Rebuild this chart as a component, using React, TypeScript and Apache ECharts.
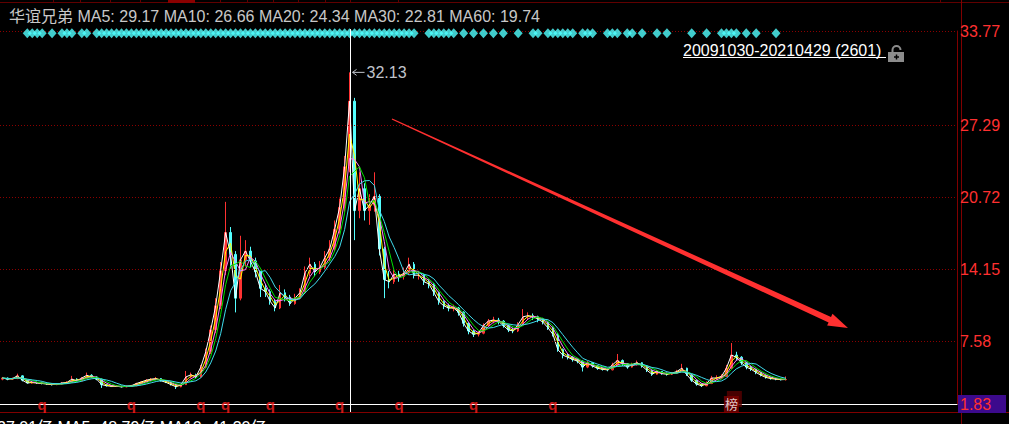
import React, { useEffect, useRef } from 'react';
import * as echarts from 'echarts';

const STOCK_NAME = '华谊兄弟';
const MA_NAMES = ['MA5', 'MA10', 'MA20', 'MA30', 'MA60'];
const MA_VALUES = [29.17, 26.66, 24.34, 22.81, 19.74];
const MA_COLORS = ['#ffffff', '#ffff00', '#ff80ff', '#00e000', '#3fdcec'];
const MA_WINDOWS = [1, 2, 3, 4, 6]; // in sampled periods
const RANGE_TEXT = '20091030-20210429 (2601)';
const VOL_TEXT = ['27.01亿', 'MA5: 48.79亿', 'MA10: 41.30亿'];
const VOL_COLORS = ['#4aa0ff', '#ffffff', '#ffff00'];

const OPEN = [
  4.10, 4.20, 4.10, 4.15, 4.40, 4.00, 3.75, 3.80, 3.75, 3.70,
  3.65, 3.60, 3.65, 3.75, 3.80, 4.10, 3.95, 4.20, 4.45, 4.30,
  4.10, 3.60, 3.50, 3.45, 3.45, 3.40, 3.45, 3.50, 3.70, 3.85,
  4.00, 4.10, 4.15, 3.95, 3.80, 3.60, 3.40, 3.60, 4.30, 4.50,
  4.30, 5.20, 6.60, 8.60, 10.80, 14.00, 17.50, 15.50, 11.50, 15.00,
  15.80, 14.90, 13.90, 12.40, 12.10, 11.20, 10.60, 12.00, 11.60, 11.00,
  11.50, 12.00, 13.80, 14.60, 13.90, 14.30, 15.20, 16.00, 17.80, 19.80,
  23.50, 29.50, 19.50, 21.50, 19.50, 20.00, 20.80, 16.00, 13.20, 13.00,
  13.70, 13.50, 13.80, 14.60, 13.60, 13.60, 13.00, 12.80, 12.00, 11.20,
  10.80, 10.60, 10.60, 10.20, 9.20, 8.50, 8.20, 8.30, 9.00, 9.40,
  9.50, 9.40, 9.00, 8.60, 8.50, 9.10, 9.80, 9.90, 9.80, 9.60,
  9.30, 8.80, 8.20, 6.80, 6.30, 6.10, 5.90, 5.75, 5.20, 5.60,
  5.30, 5.10, 5.00, 4.95, 5.40, 5.80, 5.50, 5.20, 5.45, 5.60,
  5.30, 4.90, 4.55, 4.80, 4.60, 4.55, 4.65, 4.80, 5.10, 4.50,
  4.00, 3.65, 3.50, 3.70, 4.20, 4.20, 4.35, 5.10, 6.30, 6.10,
  5.60, 5.20, 5.00, 4.70, 4.45, 4.25, 4.15, 4.10, 4.05,
];
const CLOSE = [
  4.20, 4.10, 4.15, 4.40, 4.00, 3.75, 3.80, 3.75, 3.70, 3.65,
  3.60, 3.65, 3.75, 3.80, 4.10, 3.95, 4.20, 4.45, 4.30, 4.10,
  3.60, 3.50, 3.45, 3.45, 3.40, 3.45, 3.50, 3.70, 3.85, 4.00,
  4.10, 4.15, 3.95, 3.80, 3.60, 3.40, 3.60, 4.30, 4.50, 4.30,
  5.20, 6.60, 8.60, 10.80, 14.00, 17.50, 15.50, 11.50, 15.00, 15.80,
  14.90, 13.90, 12.40, 12.10, 11.20, 10.60, 12.00, 11.60, 11.00, 11.50,
  12.00, 13.80, 14.60, 13.90, 14.30, 15.20, 16.00, 17.80, 19.80, 23.50,
  29.50, 19.50, 21.50, 19.50, 20.00, 20.80, 16.00, 13.20, 13.00, 13.70,
  13.50, 13.80, 14.60, 13.60, 13.60, 13.00, 12.80, 12.00, 11.20, 10.80,
  10.60, 10.60, 10.20, 9.20, 8.50, 8.20, 8.30, 9.00, 9.40, 9.50,
  9.40, 9.00, 8.60, 8.50, 9.10, 9.80, 9.90, 9.80, 9.60, 9.30,
  8.80, 8.20, 6.80, 6.30, 6.10, 5.90, 5.75, 5.20, 5.60, 5.30,
  5.10, 5.00, 4.95, 5.40, 5.80, 5.50, 5.20, 5.45, 5.60, 5.30,
  4.90, 4.55, 4.80, 4.60, 4.55, 4.65, 4.80, 5.10, 4.50, 4.00,
  3.65, 3.50, 3.70, 4.20, 4.20, 4.35, 5.10, 6.30, 6.10, 5.60,
  5.20, 5.00, 4.70, 4.45, 4.25, 4.15, 4.10, 4.05, 4.07,
];
const LOW = [
  4.00, 4.00, 4.02, 4.10, 3.90, 3.70, 3.68, 3.66, 3.62, 3.58,
  3.52, 3.55, 3.60, 3.70, 3.76, 3.88, 3.90, 4.15, 4.20, 4.00,
  3.30, 3.42, 3.38, 3.38, 3.34, 3.36, 3.40, 3.46, 3.66, 3.80,
  3.95, 4.00, 3.88, 3.74, 3.52, 3.20, 3.36, 3.58, 4.20, 4.15,
  4.25, 5.10, 6.40, 8.30, 10.50, 13.60, 14.20, 10.20, 11.30, 14.40,
  14.30, 13.40, 11.60, 11.60, 10.90, 10.30, 10.50, 11.20, 10.80, 10.90,
  11.40, 11.90, 13.50, 13.50, 13.70, 14.10, 14.90, 15.80, 17.40, 19.40,
  23.00, 16.80, 18.80, 18.60, 18.20, 19.40, 15.40, 11.50, 12.40, 12.80,
  13.00, 13.20, 13.60, 13.30, 13.20, 12.70, 12.40, 11.70, 10.90, 10.50,
  10.30, 10.30, 9.90, 8.90, 8.20, 7.95, 8.00, 8.20, 8.90, 9.20,
  9.10, 8.80, 8.40, 8.30, 8.40, 9.00, 9.50, 9.50, 9.30, 9.10,
  8.60, 8.00, 6.60, 6.00, 5.90, 5.70, 5.55, 4.80, 5.10, 5.15,
  4.95, 4.88, 4.82, 4.90, 5.30, 5.30, 5.05, 5.15, 5.35, 5.15,
  4.75, 4.40, 4.50, 4.50, 4.42, 4.48, 4.58, 4.75, 4.40, 3.85,
  3.50, 3.38, 3.45, 3.65, 4.00, 4.10, 4.30, 5.00, 5.80, 5.40,
  5.00, 4.85, 4.55, 4.35, 4.15, 4.05, 4.00, 3.98, 3.98,
];
const HIGH = [
  4.30, 4.25, 4.25, 4.60, 4.45, 4.05, 3.90, 3.88, 3.82, 3.76,
  3.72, 3.74, 3.84, 3.92, 4.40, 4.18, 4.30, 4.70, 4.55, 4.35,
  4.15, 3.66, 3.56, 3.54, 3.50, 3.52, 3.58, 3.78, 3.92, 4.10,
  4.20, 4.30, 4.20, 4.00, 3.84, 3.64, 3.70, 4.85, 4.70, 4.60,
  5.40, 6.90, 9.00, 11.50, 14.80, 20.30, 18.00, 15.80, 17.20, 16.80,
  16.20, 15.20, 14.00, 12.80, 12.30, 11.40, 12.70, 12.30, 11.80, 11.90,
  12.40, 14.40, 15.20, 14.80, 14.90, 15.80, 16.80, 18.60, 20.60, 24.50,
  32.13, 29.80, 23.00, 22.00, 21.00, 23.00, 21.00, 16.20, 14.00, 14.20,
  14.00, 14.30, 15.20, 14.80, 14.00, 13.70, 13.20, 12.90, 12.10, 11.30,
  11.00, 10.90, 10.70, 10.30, 9.30, 8.60, 8.50, 9.20, 9.60, 9.80,
  9.70, 9.50, 9.10, 8.80, 9.30, 10.50, 10.20, 10.10, 9.90, 9.70,
  9.40, 8.90, 8.30, 6.90, 6.40, 6.20, 6.00, 5.80, 5.75, 5.65,
  5.35, 5.15, 5.10, 5.60, 6.40, 5.90, 5.55, 5.60, 5.80, 5.65,
  5.35, 4.95, 4.95, 4.85, 4.70, 4.75, 4.95, 5.50, 5.15, 4.55,
  4.05, 3.70, 3.90, 4.40, 4.45, 4.55, 5.40, 7.40, 6.60, 6.20,
  5.70, 5.30, 5.05, 4.75, 4.50, 4.30, 4.20, 4.15, 4.35,
];

const CATEGORY_COUNT = 193; // includes empty space to the right of the last bar
const CATEGORIES = Array.from({ length: CATEGORY_COUNT }, (_, i) => String(i));

const Y_MIN = 1.83;
const Y_MAX = 35.91;
const Y_TICKS = [1.83, 7.58, 14.15, 20.72, 27.29, 35.91];
const Y_TICK_LABELS = ['1.83', '7.58', '14.15', '20.72', '27.29', '33.77'];

const PEAK_INDEX = 70;
const PEAK_VALUE = 32.13;

const DIAMOND_LEVEL = 35.7;
const DIAMOND_INDEX = [
  5, 6, 7, 8, 10, 12, 13, 14, 16, 17, 19, 20, 21, 22,
  23, 24, 25, 26, 27, 28, 29, 30, 31, 32, 33, 34, 35, 36, 37, 38, 39, 40, 41, 42,
  43, 44, 45, 46, 47, 48, 49, 50, 51, 52, 53, 54, 55, 56, 57, 58, 59, 60, 61, 62,
  63, 64, 65, 66, 67, 68, 69, 70, 71, 72, 73, 74, 75, 76, 77, 78, 79, 80, 81, 82,
  83, 86, 87, 88, 89, 90, 91, 93, 95, 97, 99, 101, 104, 107, 108, 110, 111, 112,
  113, 114, 115, 117, 118, 119, 122, 123, 124, 126, 127, 129, 132, 134, 139, 142,
  145, 146, 147, 148, 150, 152, 156,
];
const EXRIGHT_INDEX = [8, 26, 40, 45, 54, 68, 80, 95, 111];
const BANG_INDEX = [147];

const FONT = '"Liberation Sans", Arial, "Noto Sans CJK SC", sans-serif';

function movingAverage(values: number[], w: number) {
  return values.map((_, i) => {
    const s = Math.max(0, i - w + 1);
    let sum = 0;
    for (let k = s; k <= i; k++) sum += values[k];
    return +(sum / (i - s + 1)).toFixed(3);
  });
}

export default function App() {
  const ref = useRef<HTMLDivElement>(null);

  useEffect(() => {
    if (!ref.current) return;
    const chart = echarts.init(ref.current, undefined, { renderer: 'svg' });

    const candles = CLOSE.map((c, i) => [OPEN[i], c, LOW[i], HIGH[i]]);

    const maSeries = MA_NAMES.map((name, k) => ({
      name,
      type: 'line',
      data: movingAverage(CLOSE, MA_WINDOWS[k]),
      showSymbol: false,
      symbol: 'none',
      silent: true,
      lineStyle: { color: MA_COLORS[k], width: 1 },
      z: 3 + k,
    }));

    chart.setOption({
      animation: false,
      backgroundColor: '#000000',
      grid: { left: 0, right: 48, top: 31, bottom: 20, containLabel: false },
      xAxis: {
        type: 'category',
        data: CATEGORIES,
        boundaryGap: true,
        axisLine: { show: true, lineStyle: { color: '#ffffff', width: 1 } },
        axisTick: { show: false },
        axisLabel: { show: false },
        splitLine: { show: false },
      },
      yAxis: {
        type: 'value',
        position: 'right',
        min: Y_MIN,
        max: Y_MAX,
        axisLine: { show: true, lineStyle: { color: '#800000' } },
        axisTick: { show: false, customValues: Y_TICKS },
        splitLine: { show: false },
        axisLabel: {
          customValues: Y_TICKS,
          margin: 1,
          formatter: (v: number) => {
            const k = Y_TICKS.findIndex((t) => Math.abs(t - v) < 0.005);
            const lab = k >= 0 ? Y_TICK_LABELS[k] : '';
            return k === 0 ? `{hl|${lab}}` : `{n|${lab}}`;
          },
          rich: {
            n: { color: '#ff3030', fontSize: 16, fontFamily: FONT, padding: [0, 0, 0, 2] },
            hl: {
              color: '#ff3030', fontSize: 16, fontFamily: FONT, backgroundColor: '#3c0a8c',
              padding: [1, 6, 1, 2], lineHeight: 18, width: 40,
            },
          },
        },
      },
      series: [
        {
          type: 'candlestick',
          data: candles,
          barMaxWidth: 2,
          silent: true,
          itemStyle: {
            color: '#ff3232', color0: '#54ffff',
            borderColor: '#ff3232', borderColor0: '#54ffff', borderWidth: 1,
          },
          markLine: {
            silent: true,
            symbol: ['none', 'none'],
            label: { show: false },
            lineStyle: { color: '#8b0000', type: [1, 2], width: 1 },
            data: Y_TICKS.slice(1).map((v) => ({ yAxis: v })),
          },
          z: 2,
        },
        ...maSeries,
        {
          type: 'scatter',
          data: DIAMOND_INDEX.map((i) => [i, DIAMOND_LEVEL]),
          symbol: 'diamond',
          symbolSize: [9, 10],
          clip: false,
          silent: true,
          itemStyle: { color: '#50ffff' },
          z: 10,
        },
        {
          type: 'scatter',
          data: EXRIGHT_INDEX.map((i) => [i, Y_MIN]),
          symbolSize: 0,
          clip: false,
          silent: true,
          label: {
            show: true, position: 'inside', formatter: 'q', color: '#ff2020',
            fontSize: 15, fontWeight: 'bold', fontFamily: FONT,
          },
          z: 11,
        },
        {
          type: 'scatter',
          data: BANG_INDEX.map((i) => [i, Y_MIN]),
          symbolSize: 0,
          clip: false,
          silent: true,
          label: {
            show: true, position: 'inside', formatter: '榜', color: '#ffffff',
            fontSize: 13, fontFamily: FONT, backgroundColor: '#7a0000',
            padding: [2, 1, 1, 1],
            shadowColor: '#5a0000', shadowOffsetX: 3, shadowOffsetY: -5, shadowBlur: 0,
          },
          z: 11,
        },
      ],
    });

    const [px, py] = chart.convertToPixel({ seriesIndex: 0 }, [PEAK_INDEX, PEAK_VALUE]) as number[];
    const cx = Math.round(px) + 0.5;

    const legendRich: any = { n: { color: '#c8c8c8', fontSize: 16, fontFamily: FONT } };
    MA_NAMES.forEach((_, k) => {
      legendRich['m' + k] = { color: MA_COLORS[k], fontSize: 16, fontFamily: FONT };
    });
    const legendText =
      `{n|${STOCK_NAME}} ` +
      MA_NAMES.map((n, k) => `{m${k}|${n}: ${MA_VALUES[k].toFixed(2)}}`).join(' ');

    const volRich: any = {};
    VOL_TEXT.forEach((_, k) => {
      volRich['v' + k] = { color: VOL_COLORS[k], fontSize: 16, fontFamily: FONT };
    });
    const volText = VOL_TEXT.map((t, k) => `{v${k}|${t}}`).join(' ');

    const tabTicks = [53, 80, 110, 140, 220, 247, 273, 298, 325, 350, 398, 940];

    // long red trend arrow
    const arrow = [
      [391.7, 119.6], [828.6, 322.4], [827.1, 325.6], [848, 328],
      [832.5, 313.8], [831.0, 317.0], [392.3, 118.4],
    ];

    chart.setOption({
      graphic: [
        { type: 'line', silent: true, shape: { x1: 0, y1: 2.5, x2: 1009, y2: 2.5 }, style: { stroke: '#600000', lineWidth: 1 } },
        { type: 'rect', silent: true, shape: { x: 168, y: 0, width: 27, height: 3 }, style: { fill: '#8b0000' } },
        ...tabTicks.map((x) => ({
          type: 'line', silent: true, shape: { x1: x + 0.5, y1: 0, x2: x + 0.5, y2: 3 }, style: { stroke: '#600000', lineWidth: 1 },
        })),
        { type: 'line', silent: true, shape: { x1: 961.5, y1: 0, x2: 961.5, y2: 424 }, style: { stroke: '#800000', lineWidth: 1 } },
        { type: 'line', silent: true, shape: { x1: 0, y1: 412.5, x2: 1009, y2: 412.5 }, style: { stroke: '#800000', lineWidth: 1 } },
        {
          type: 'text', silent: true, x: 9, y: 16,
          style: { text: legendText, rich: legendRich, fontSize: 16, fontFamily: FONT, fill: '#c8c8c8', verticalAlign: 'middle' },
        },
        {
          type: 'text', silent: true, x: 683, y: 50.5,
          style: { text: RANGE_TEXT, fontSize: 16, fontFamily: FONT, fill: '#ffffff', verticalAlign: 'middle' },
        },
        { type: 'line', silent: true, shape: { x1: 683, y1: 57.5, x2: 886, y2: 57.5 }, style: { stroke: '#ffffff', lineWidth: 1 } },
        { type: 'arc', silent: true, shape: { cx: 896.5, cy: 50, r: 4, startAngle: Math.PI, endAngle: Math.PI * 2, clockwise: true }, style: { stroke: '#8c8c8c', lineWidth: 2, fill: 'none' } },
        { type: 'line', silent: true, shape: { x1: 892.5, y1: 50, x2: 892.5, y2: 53 }, style: { stroke: '#8c8c8c', lineWidth: 2 } },
        { type: 'rect', silent: true, shape: { x: 888, y: 52, width: 16, height: 10 }, style: { fill: '#8c8c8c' } },
        { type: 'line', silent: true, shape: { x1: 894, y1: 57, x2: 899, y2: 57 }, style: { stroke: '#000000', lineWidth: 1.5 } },
        { type: 'line', silent: true, shape: { x1: 896.5, y1: 54.5, x2: 896.5, y2: 59.5 }, style: { stroke: '#000000', lineWidth: 1.5 } },
        {
          type: 'text', silent: true, x: -3, y: 427,
          style: { text: volText, rich: volRich, fontSize: 16, fontFamily: FONT, fill: '#ffffff', verticalAlign: 'middle' },
        },
        { type: 'polygon', silent: true, shape: { points: arrow }, style: { fill: '#ff3030' }, z: 50 },
        // crosshair
        { type: 'line', silent: true, shape: { x1: cx, y1: 29, x2: cx, y2: 412 }, style: { stroke: '#ffffff', lineWidth: 1 }, z: 40 },
        // peak annotation
        { type: 'line', silent: true, shape: { x1: px + 3, y1: py, x2: px + 15, y2: py }, style: { stroke: '#c0c4cc', lineWidth: 1 }, z: 41 },
        { type: 'polyline', silent: true, shape: { points: [[px + 7, py - 3], [px + 3, py], [px + 7, py + 3]] }, style: { stroke: '#c0c4cc', lineWidth: 1, fill: 'none' }, z: 41 },
        {
          type: 'text', silent: true, x: px + 17, y: py,
          style: { text: PEAK_VALUE.toFixed(2), fontSize: 16, fontFamily: FONT, fill: '#c0c4cc', verticalAlign: 'middle' },
          z: 41,
        },
      ],
    });

    return () => chart.dispose();
  }, []);

  return (
    <div
      ref={ref}
      style={{ position: 'fixed', left: 0, top: 0, width: 1009, height: 424, background: '#000000' }}
    />
  );
}
